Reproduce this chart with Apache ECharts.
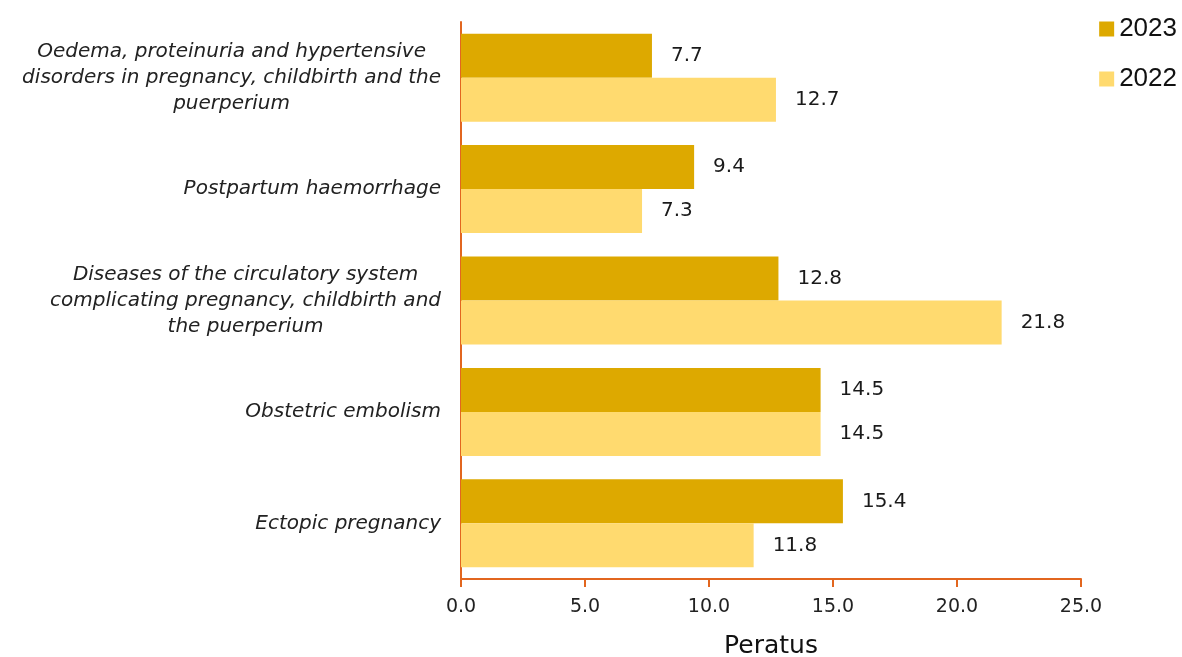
<!DOCTYPE html>
<html>
<head>
<meta charset="utf-8">
<script src="https://cdn.jsdelivr.net/npm/echarts@6/dist/echarts.min.js"></script>
<style>html,body{margin:0;padding:0;background:#fff}#c{width:1182px;height:657px}</style>
</head>
<body>
<div id="c"></div>
<script>
const categories = [
  "Oedema, proteinuria and hypertensive\ndisorders in pregnancy, childbirth and the\npuerperium",
  "Postpartum haemorrhage",
  "Diseases of the circulatory system\ncomplicating pregnancy, childbirth and\nthe puerperium",
  "Obstetric embolism",
  "Ectopic pregnancy"
];
const values2023 = [7.7, 9.4, 12.8, 14.5, 15.4];
const values2022 = [12.7, 7.3, 21.8, 14.5, 11.8];
const seriesNames = ["2023", "2022"];
const axisName = "Peratus";

const chart = echarts.init(document.getElementById('c'));
const axisColor = '#E2661F';
const font = '"DejaVu Sans", sans-serif';
const labelStyle = {show: true, position: 'right', distance: 19, color: '#1a1a1a', fontSize: 20, fontFamily: font, formatter: p => p.value.toFixed(1)};
chart.setOption({
  animation: false,
  grid: {left: 461, right: 101, top: 22, bottom: 78, containLabel: false, outerBoundsMode: 'none'},
  legend: {
    orient: 'vertical', right: 0, top: 11, itemWidth: 15, itemHeight: 15, itemGap: 24, icon: 'rect',
    textStyle: {fontSize: 26, color: '#111', fontFamily: '"Liberation Sans", Arial, sans-serif'},
    data: seriesNames
  },
  xAxis: {
    type: 'value', min: 0, max: 25, interval: 5,
    name: axisName, nameLocation: 'middle', nameGap: 55,
    nameTextStyle: {fontSize: 25, color: '#111', fontFamily: font},
    axisLine: {show: true, lineStyle: {color: axisColor, width: 2}},
    axisTick: {show: true, length: 8, lineStyle: {color: axisColor, width: 2}},
    axisLabel: {fontSize: 19, color: '#222', margin: 19, fontFamily: font, formatter: v => v.toFixed(1)},
    splitLine: {show: false}
  },
  yAxis: {
    type: 'category', data: categories, inverse: true,
    axisLine: {show: true, lineStyle: {color: axisColor, width: 2}},
    axisTick: {show: false},
    axisLabel: {
      margin: 20, align: 'right', fontSize: 20, lineHeight: 26,
      formatter: v => v.split('\n').map(s => '{c|' + s + '}').join('\n'),
      rich: {c: {align: 'center', fontSize: 20, fontStyle: 'italic', color: '#222', lineHeight: 26, fontFamily: font}}
    }
  },
  series: [
    {name: seriesNames[0], type: 'bar', data: values2023, itemStyle: {color: '#DDA900'}, barGap: '0%', barCategoryGap: '21%', label: labelStyle},
    {name: seriesNames[1], type: 'bar', data: values2022, itemStyle: {color: '#FFDA6F'}, barGap: '0%', barCategoryGap: '21%', label: labelStyle}
  ]
});
</script>
</body>
</html>
